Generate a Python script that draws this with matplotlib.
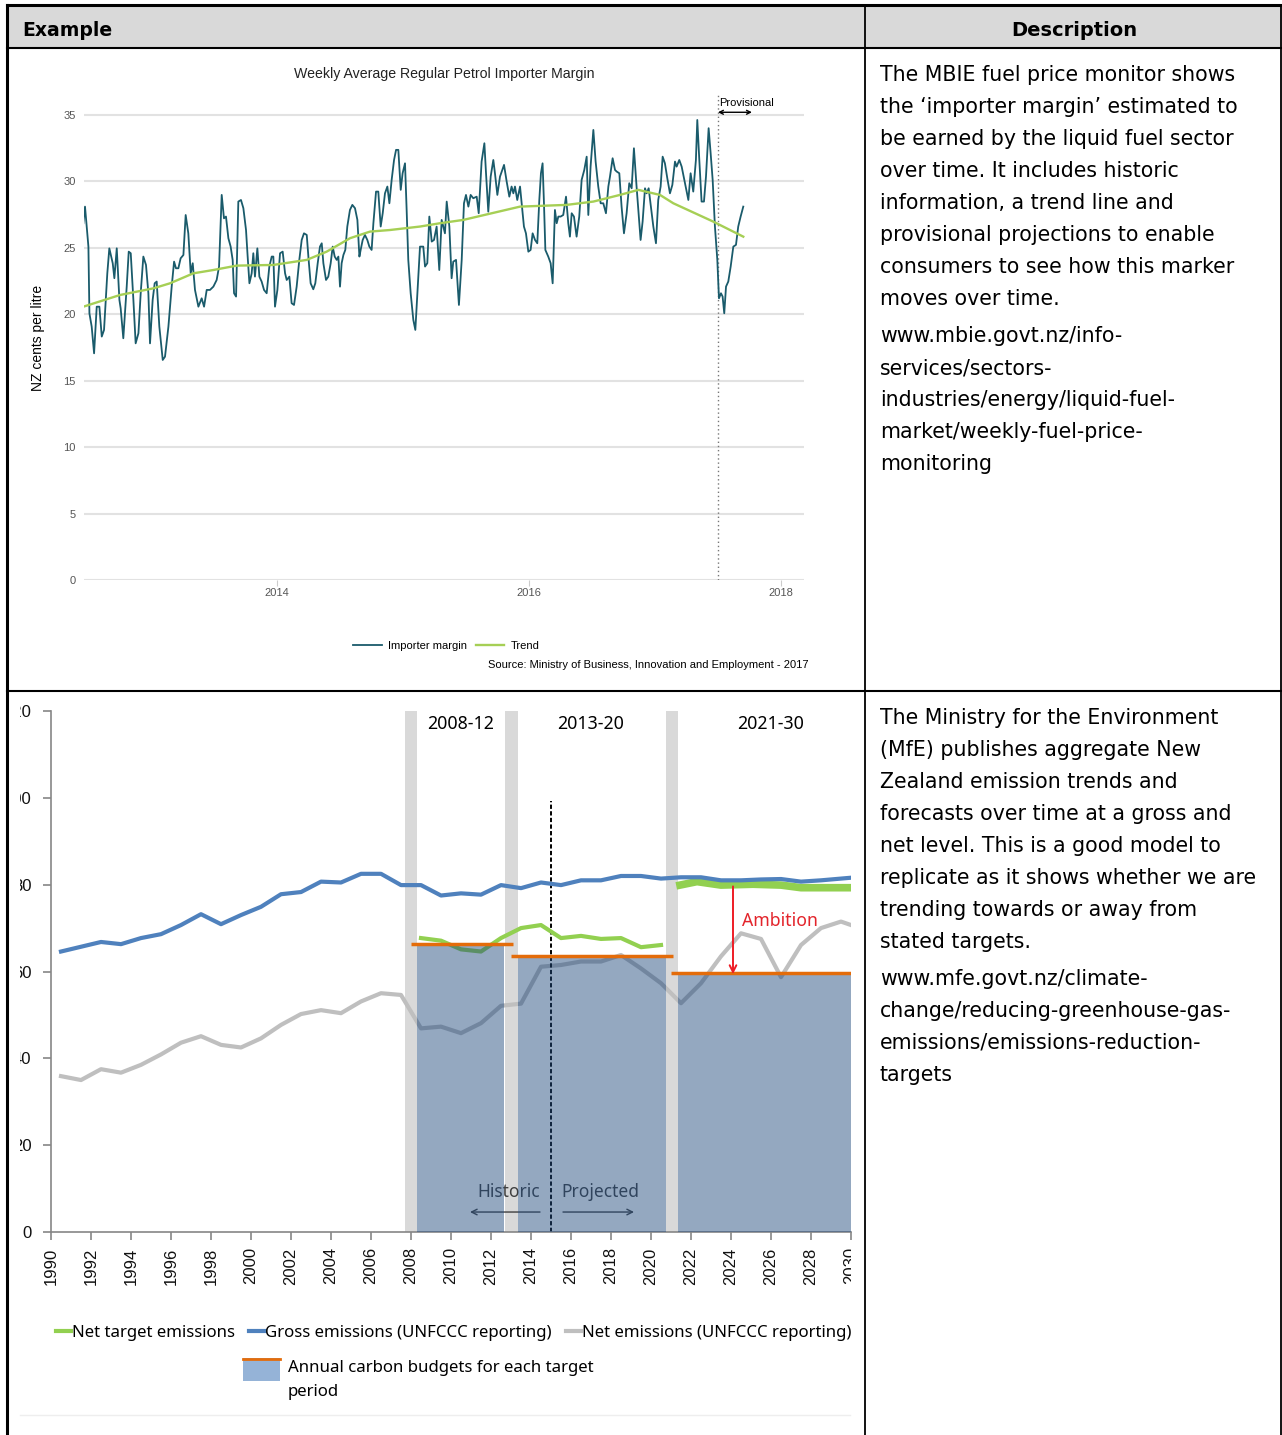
import numpy as np
import matplotlib
matplotlib.use('Agg')
import matplotlib.pyplot as plt
from matplotlib import font_manager
from matplotlib.lines import Line2D
from matplotlib.patches import Rectangle
from matplotlib.transforms import Bbox, TransformedBbox

W, H = 1282, 1435

# ---------------- chart 1: weekly importer margin (decimal year, NZ c/L)
margin_t = [
    2012.463, 2012.476, 2012.503, 2012.511, 2012.529, 2012.548, 2012.569, 2012.590, 2012.609, 2012.627,
    2012.653, 2012.669, 2012.696, 2012.709, 2012.728, 2012.749, 2012.759, 2012.780, 2012.807, 2012.823,
    2012.839, 2012.860, 2012.878, 2012.900, 2012.918, 2012.939, 2012.960, 2012.979, 2012.992, 2013.013,
    2013.029, 2013.045, 2013.066, 2013.093, 2013.111, 2013.138, 2013.164, 2013.183, 2013.198, 2013.217,
    2013.235, 2013.257, 2013.275, 2013.296, 2013.315, 2013.331, 2013.349, 2013.376, 2013.402, 2013.421,
    2013.442, 2013.468, 2013.495, 2013.521, 2013.540, 2013.561, 2013.579, 2013.595, 2013.614, 2013.632,
    2013.648, 2013.659, 2013.675, 2013.693, 2013.714, 2013.733, 2013.754, 2013.767, 2013.781, 2013.799,
    2013.812, 2013.825, 2013.844, 2013.860, 2013.878, 2013.897, 2013.918, 2013.939, 2013.958, 2013.971,
    2013.984, 2014.003, 2014.024, 2014.045, 2014.064, 2014.077, 2014.098, 2014.116, 2014.135, 2014.156,
    2014.177, 2014.196, 2014.214, 2014.236, 2014.251, 2014.267, 2014.288, 2014.304, 2014.323, 2014.341,
    2014.355, 2014.368, 2014.389, 2014.407, 2014.426, 2014.442, 2014.458, 2014.474, 2014.487, 2014.500,
    2014.513, 2014.527, 2014.542, 2014.558, 2014.579, 2014.598, 2014.619, 2014.638, 2014.654, 2014.664,
    2014.680, 2014.698, 2014.717, 2014.733, 2014.751, 2014.765, 2014.786, 2014.804, 2014.823, 2014.839,
    2014.857, 2014.876, 2014.892, 2014.910, 2014.929, 2014.945, 2014.963, 2014.982, 2014.997, 2015.016,
    2015.029, 2015.042, 2015.061, 2015.082, 2015.098, 2015.114, 2015.135, 2015.161, 2015.175, 2015.193,
    2015.209, 2015.228, 2015.246, 2015.267, 2015.288,
    2015.307, 2015.320, 2015.333, 2015.347, 2015.368, 2015.386, 2015.399, 2015.421, 2015.444, 2015.466,
    2015.484, 2015.500, 2015.519, 2015.537, 2015.558, 2015.585, 2015.601, 2015.624, 2015.646, 2015.659,
    2015.677, 2015.696, 2015.717, 2015.730, 2015.749, 2015.770, 2015.802, 2015.823, 2015.844, 2015.862,
    2015.876, 2015.889, 2015.907, 2015.929, 2015.942, 2015.960, 2015.976, 2015.995, 2016.013, 2016.029,
    2016.048, 2016.066, 2016.082, 2016.095, 2016.108, 2016.119, 2016.130, 2016.153, 2016.172, 2016.188,
    2016.206, 2016.220, 2016.233, 2016.251, 2016.272, 2016.294, 2016.312, 2016.325, 2016.339, 2016.357,
    2016.378, 2016.399, 2016.418, 2016.439, 2016.458, 2016.471, 2016.489, 2016.511, 2016.529, 2016.550,
    2016.569, 2016.590, 2016.611, 2016.630, 2016.643, 2016.664, 2016.683, 2016.696, 2016.717, 2016.735,
    2016.754, 2016.775, 2016.796, 2016.815, 2016.833, 2016.854, 2016.868, 2016.886, 2016.902, 2016.921,
    2016.934, 2016.950, 2016.968, 2016.987, 2017.008, 2017.026, 2017.045, 2017.061, 2017.079, 2017.098,
    2017.119, 2017.138, 2017.159, 2017.172, 2017.193, 2017.212, 2017.238, 2017.265, 2017.283, 2017.304,
    2017.325, 2017.336, 2017.352, 2017.370, 2017.389, 2017.405, 2017.426, 2017.442, 2017.458, 2017.476,
    2017.495, 2017.508, 2017.524, 2017.537, 2017.550, 2017.564, 2017.582, 2017.601, 2017.622, 2017.643,
    2017.661, 2017.680, 2017.701,
]
margin_v = [
    26.85, 28.10, 25.09, 20.07, 19.07, 17.06, 20.57, 20.57, 18.32, 18.82,
    23.08, 24.96, 23.84, 22.71, 24.96, 21.08, 20.45, 18.19, 22.08, 24.71,
    24.59, 21.08, 17.81, 18.57, 21.58, 24.34, 23.71, 21.58, 17.81, 21.08,
    22.33, 22.46, 19.07, 16.56, 16.81, 19.07, 22.08, 23.96, 23.46, 23.46,
    24.21, 24.46, 27.47, 26.09, 23.08, 23.84, 21.83, 20.57, 21.20, 20.57,
    21.83, 21.83, 22.08, 22.58, 23.59, 28.98, 27.22, 27.35, 25.72, 25.09,
    24.09, 21.58, 21.33, 28.48, 28.60, 27.98, 26.34, 24.34, 22.33, 23.08,
    24.59, 22.83, 24.96, 22.83, 22.46, 21.83, 21.58, 23.59, 24.34, 24.34,
    20.57, 21.83, 24.59, 24.71, 23.08, 22.58, 22.83, 20.83, 20.70, 22.08,
    24.09, 25.59, 26.09, 25.97, 24.09, 22.33, 21.88, 22.33, 23.84, 25.09,
    25.34, 23.84, 22.58, 22.83, 23.84, 25.09, 24.34, 24.09, 24.34, 22.08,
    23.84, 24.46, 24.84, 26.60, 27.85, 28.23, 27.98, 27.10, 24.34, 24.84,
    25.59, 25.97, 25.59, 25.09, 24.84, 26.85, 29.23, 29.23, 26.60, 27.60,
    29.10, 29.61, 28.35, 30.11, 31.61, 32.37, 32.37, 29.36, 30.61, 31.36,
    27.85, 24.09, 21.58, 19.57, 18.82, 21.58, 25.09, 25.09, 23.59, 23.84,
    27.35, 25.47, 25.59, 26.60, 23.33,
    27.10, 26.60, 26.09, 28.48, 26.60, 22.71, 23.96, 24.09, 20.70, 24.09,
    28.35, 28.98, 28.10, 28.98, 28.73, 28.85, 27.60, 31.49, 32.87, 30.61,
    27.72, 30.36, 31.61, 30.61, 28.98, 30.36, 31.24, 29.98, 28.85, 29.61,
    29.10, 29.61, 28.60, 29.61, 28.35, 26.60, 26.09, 24.71, 24.84, 26.09,
    25.59, 25.34, 28.60, 30.61, 31.36, 28.35, 24.84, 24.34, 23.84, 22.33,
    27.85, 26.85, 27.35, 27.35, 27.47, 28.85, 26.85, 25.84, 27.60, 27.35,
    25.84, 27.35, 30.11, 30.86, 31.86, 27.47, 31.11, 33.87, 31.49, 29.61,
    28.35, 28.35, 27.60, 29.61, 30.36, 31.74, 30.86, 30.74, 30.61, 28.10,
    26.09, 27.60, 29.86, 29.48, 32.49, 29.61, 27.85, 25.59, 26.97, 29.48,
    29.10, 29.48, 28.10, 26.60, 25.34, 28.60, 29.61, 31.86, 31.36, 30.23,
    29.10, 29.73, 31.49, 31.11, 31.61, 31.11, 29.86, 28.60, 30.61, 29.23,
    31.61, 34.62, 31.61, 28.48, 28.48, 30.36, 34.00, 32.11, 30.11, 26.60,
    24.09, 21.20, 21.58, 21.33, 20.07, 22.08, 22.46, 23.59, 25.09, 25.22,
    26.60, 27.35, 28.10,
]
trend_t = [2012.463, 2012.754, 2013.019, 2013.151, 2013.336, 2013.495, 2013.680, 2013.971,
           2014.236, 2014.394, 2014.579, 2014.738, 2014.897, 2015.135, 2015.294, 2015.479,
           2015.929, 2016.299, 2016.511, 2016.722, 2016.868, 2017.040, 2017.146, 2017.463, 2017.701]
trend_v = [20.57, 21.45, 21.95, 22.33, 23.08, 23.33, 23.66, 23.71,
           24.09, 24.71, 25.72, 26.22, 26.34, 26.60, 26.85, 27.10,
           28.10, 28.23, 28.48, 28.98, 29.36, 28.98, 28.35, 26.97, 25.84]
provisional_start = 2017.5
provisional_end = 2017.77
chart1_years = [2014, 2016, 2018]
chart1_yticks = [0, 5, 10, 15, 20, 25, 30, 35]

# ---------------- chart 2: NZ emissions (Mt CO2-e), values at mid-year
years = np.arange(1990, 2031)
gross = [64.6, 65.7, 66.8, 66.3, 67.7, 68.6, 70.7, 73.2, 70.9, 73.0,
         74.9, 77.8, 78.3, 80.7, 80.5, 82.5, 82.5, 79.9, 79.9, 77.5,
         78.0, 77.7, 79.9, 79.2, 80.5, 79.9, 81.0, 81.0, 82.0, 82.0,
         81.4, 81.7, 81.7, 81.0, 81.0, 81.2, 81.3, 80.7, 81.0, 81.4, 81.8]
net = [35.9, 35.0, 37.5, 36.7, 38.5, 40.9, 43.6, 45.1, 43.1, 42.5,
       44.6, 47.7, 50.2, 51.1, 50.4, 53.1, 55.0, 54.6, 46.9, 47.3,
       45.8, 48.1, 52.1, 52.6, 61.1, 61.5, 62.3, 62.3, 63.8, 60.7,
       57.3, 52.7, 57.3, 63.5, 68.8, 67.5, 58.7, 66.1, 70.0, 71.5, 69.9]
target_years = np.arange(2008, 2021)
target = [67.7, 67.1, 65.1, 64.6, 67.7, 70.0, 70.7, 67.7, 68.2, 67.5, 67.7, 65.6, 66.1]
target_2130_t = [2021.45, 2022.3, 2023.5, 2025.1, 2026.5, 2027.5, 2030.0]
target_2130 = [79.9, 80.7, 79.9, 80.1, 79.9, 79.3, 79.3]
budget_start = np.array([2008.3, 2013.35, 2021.35])
budget_end = np.array([2012.65, 2020.75, 2030.0])
budget = [66.3, 63.6, 59.6]
budget_line_start = [2008.0, 2013.0, 2020.98]
budget_line_end = [2013.1, 2021.1, 2030.0]
period_labels = ['2008-12', '2013-20', '2021-30']
period_label_x = [2010.5, 2017.0, 2026.0]
band_centres = [2008.0, 2013.03, 2021.05]

desc1 = ["The MBIE fuel price monitor shows",
         "the \u2018importer margin\u2019 estimated to",
         "be earned by the liquid fuel sector",
         "over time. It includes historic",
         "information, a trend line and",
         "provisional projections to enable",
         "consumers to see how this marker",
         "moves over time."]
url1 = ["www.mbie.govt.nz/info-", "services/sectors-", "industries/energy/liquid-fuel-",
        "market/weekly-fuel-price-", "monitoring"]
desc2 = ["The Ministry for the Environment",
         "(MfE) publishes aggregate New",
         "Zealand emission trends and",
         "forecasts over time at a gross and",
         "net level. This is a good model to",
         "replicate as it shows whether we are",
         "trending towards or away from",
         "stated targets."]
url2 = ["www.mfe.govt.nz/climate-", "change/reducing-greenhouse-gas-",
        "emissions/emissions-reduction-", "targets"]

names = {f.name for f in font_manager.fontManager.ttflist}
if 'Liberation Sans Narrow' in names:
    NARROW, NSIZE = 'Liberation Sans Narrow', 9.6
else:
    NARROW, NSIZE = 'Liberation Sans', 8.0
ARIAL = 'Liberation Sans'
CAL = 'Noto Sans'
DESC_SIZE = 14.8


def fx(x):
    return x / W


def fy(y):
    return 1 - y / H


fig = plt.figure(figsize=(W / 100, H / 100), dpi=100)

# ---------------- table frame
fig.add_artist(Rectangle((fx(7), fy(48)), fx(1282) - fx(7), fy(5) - fy(48),
                         facecolor='#d9d9d9', edgecolor='none', transform=fig.transFigure))
for y, lw in [(5, 2.2), (48, 1.5), (691, 1.5)]:
    fig.add_artist(Line2D([fx(7), fx(1282)], [fy(y), fy(y)], color='black', lw=lw))
for x, lw in [(7, 2.2), (865, 1.3), (1281, 1.3)]:
    fig.add_artist(Line2D([fx(x), fx(x)], [fy(5), fy(1435)], color='black', lw=lw))
fig.text(fx(22), fy(30), 'Example', fontsize=13.6, fontweight='bold', va='center', ha='left')
fig.text(fx(1074), fy(30), 'Description', fontsize=14, fontweight='bold', va='center', ha='center')

for i, s in enumerate(desc1):
    fig.text(fx(880), fy(75 + 32 * i), s, fontsize=DESC_SIZE, va='center')
for i, s in enumerate(url1):
    fig.text(fx(880), fy(336 + 32 * i), s, fontsize=DESC_SIZE, va='center')
for i, s in enumerate(desc2):
    fig.text(fx(880), fy(718 + 32 * i), s, fontsize=DESC_SIZE, va='center')
for i, s in enumerate(url2):
    fig.text(fx(880), fy(979 + 32 * i), s, fontsize=DESC_SIZE, va='center')

# ---------------- chart 1
ax1 = fig.add_axes([fx(84), fy(580), (804 - 84) / W, (580 - 95) / H])
ax1.plot(margin_t, margin_v, color='#1a5b6b', lw=1.3, label='Importer margin', zorder=3)
ax1.plot(trend_t, trend_v, color='#a6cf55', lw=1.7, label='Trend', zorder=4)
ax1.set_xlim(2012.468, 2018.183)
ax1.set_ylim(0, 36.5)
ax1.set_yticks(chart1_yticks)
ax1.set_xticks(chart1_years)
ax1.grid(axis='y', color='#e2e2e2', lw=1.5)
ax1.set_axisbelow(True)
for s in ax1.spines.values():
    s.set_visible(False)
ax1.tick_params(axis='y', length=0, pad=6, labelsize=8, labelcolor='#555555')
ax1.tick_params(axis='x', length=4, color='#cccccc', pad=2, labelsize=8, labelcolor='#555555')
for lab in ax1.get_xticklabels() + ax1.get_yticklabels():
    lab.set_fontfamily(ARIAL)
ax1.axvline(provisional_start, color='#777777', ls=(0, (1, 2)), lw=1)
ax1.annotate('', xy=(provisional_start, 35.2), xytext=(provisional_end, 35.2),
             arrowprops=dict(arrowstyle='<->', color='black', lw=1, shrinkA=0, shrinkB=0,
                             mutation_scale=7))
ax1.text(provisional_start + 0.01, 35.9, 'Provisional', fontsize=8, family=ARIAL,
         va='center', ha='left')
ax1.set_title('Weekly Average Regular Petrol Importer Margin', fontsize=10.2, family=ARIAL,
              color='#222222', pad=12)
ax1.set_ylabel('NZ cents per litre', fontsize=10, family=ARIAL)
ax1.yaxis.set_label_coords(-(84 - 45) / 720, 0.5)
ax1.legend(loc='center', bbox_to_anchor=(fx(446), fy(646)), bbox_transform=fig.transFigure,
           ncol=2, frameon=False, prop={'family': NARROW, 'size': NSIZE},
           handlelength=2.6, handletextpad=0.55, columnspacing=0.8, borderpad=0)
fig.text(fx(808), fy(665), 'Source: Ministry of Business, Innovation and Employment - 2017',
         family=NARROW, fontsize=NSIZE, ha='right', va='center')

# ---------------- chart 2
ax2 = fig.add_axes([fx(51), fy(1232), 800 / W, 521 / H])
for c in band_centres:
    ax2.axvspan(c - 0.31, c + 0.31, color='#d9d9d9', lw=0, zorder=1)
ax2.plot(years + 0.5, net, color='#bfbfbf', lw=3, zorder=2)
ax2.plot(target_years + 0.5, target, color='#92d050', lw=3, zorder=2.5)
ax2.plot(target_2130_t, target_2130, color='#92d050', lw=5.5, zorder=2.5)
ax2.plot(years + 0.5, gross, color='#4f81bd', lw=3, zorder=3)
ax2.vlines(2015, 0, 99.3, colors='black', linestyles=(0, (2.2, 1.2)), lw=1.4, zorder=2)
ax2.bar(budget_start, budget, width=budget_end - budget_start, align='edge',
        color='#1f497d', alpha=0.48, lw=0, zorder=4)
ax2.hlines(budget, budget_line_start, budget_line_end, colors='#e46c0a', lw=2.5, zorder=5)

for lab, x in zip(period_labels, period_label_x):
    ax2.text(x, 117, lab, ha='center', va='center', fontsize=12.8, family=CAL, zorder=6)

ax2.annotate('', xy=(2024.1, 59.4), xytext=(2024.1, 79.6),
             arrowprops=dict(arrowstyle='->', color='#ee1c25', lw=1.4, shrinkA=0, shrinkB=0,
                             mutation_scale=12), zorder=6)
ax2.text(2024.55, 71.6, 'Ambition', color='#e3242b', fontsize=12.7, family=CAL,
         va='center', ha='left', zorder=6)

ax2.text(2012.9, 9.2, 'Historic', ha='center', va='center', color='#404040',
         fontsize=12.5, family=CAL, zorder=3)
ax2.text(2017.45, 9.2, 'Projected', ha='center', va='center', color='#404040',
         fontsize=12.5, family=CAL, zorder=3)
ax2.annotate('', xy=(2010.95, 4.6), xytext=(2014.45, 4.6),
             arrowprops=dict(arrowstyle='->', color='#404040', lw=1, shrinkA=0, shrinkB=0),
             zorder=3)
ax2.annotate('', xy=(2019.15, 4.6), xytext=(2015.6, 4.6),
             arrowprops=dict(arrowstyle='->', color='#404040', lw=1, shrinkA=0, shrinkB=0),
             zorder=3)

ax2.set_xlim(1990, 2030)
ax2.set_ylim(0, 120)
ax2.set_yticks(range(0, 121, 20))
ax2.set_xticks(range(1990, 2031, 2))
for side in ['top', 'right']:
    ax2.spines[side].set_visible(False)
for side in ['left', 'bottom']:
    ax2.spines[side].set_color('#868686')
    ax2.spines[side].set_linewidth(1.2)
ax2.tick_params(axis='both', direction='out', length=6, width=1.2, color='#868686',
                labelsize=12, labelcolor='#111111')
ax2.tick_params(axis='y', pad=8)
ax2.tick_params(axis='x', pad=5, labelrotation=90)

clip_y = TransformedBbox(Bbox.from_extents(fx(20), 0, 1, 1), fig.transFigure)
clip_x = TransformedBbox(Bbox.from_extents(0, 0, fx(851), 1), fig.transFigure)
for lab in ax2.get_yticklabels():
    lab.set_fontfamily(ARIAL)
    lab.set_clip_box(clip_y)
    lab.set_clip_on(True)
for lab in ax2.get_xticklabels():
    lab.set_fontfamily(ARIAL)
    lab.set_clip_box(clip_x)
    lab.set_clip_on(True)

handles = [Line2D([], [], color='#92d050', lw=3),
           Line2D([], [], color='#4f81bd', lw=3),
           Line2D([], [], color='#bfbfbf', lw=3)]
ax2.legend(handles, ['Net target emissions', 'Gross emissions (UNFCCC reporting)',
                     'Net emissions (UNFCCC reporting)'],
           loc='center', bbox_to_anchor=(fx(454), fy(1333)), bbox_transform=fig.transFigure,
           ncol=3, frameon=False, prop={'family': CAL, 'size': 12.1},
           handlelength=0.9, handletextpad=0.05, columnspacing=0.85, borderpad=0)
fig.add_artist(Rectangle((fx(243), fy(1381)), 37 / W, 23 / H, facecolor='#95b3d7',
                         edgecolor='none', transform=fig.transFigure))
fig.add_artist(Line2D([fx(243), fx(280)], [fy(1359), fy(1359)], color='#e46c0a', lw=2))
fig.text(fx(288), fy(1368), 'Annual carbon budgets for each target', family=CAL,
         fontsize=12.1, va='center')
fig.text(fx(288), fy(1392), 'period', family=CAL, fontsize=12.1, va='center')
fig.add_artist(Line2D([fx(20), fx(850)], [fy(1415), fy(1415)], color='#eeeeee', lw=1))

fig.savefig('out.png', dpi=100)
